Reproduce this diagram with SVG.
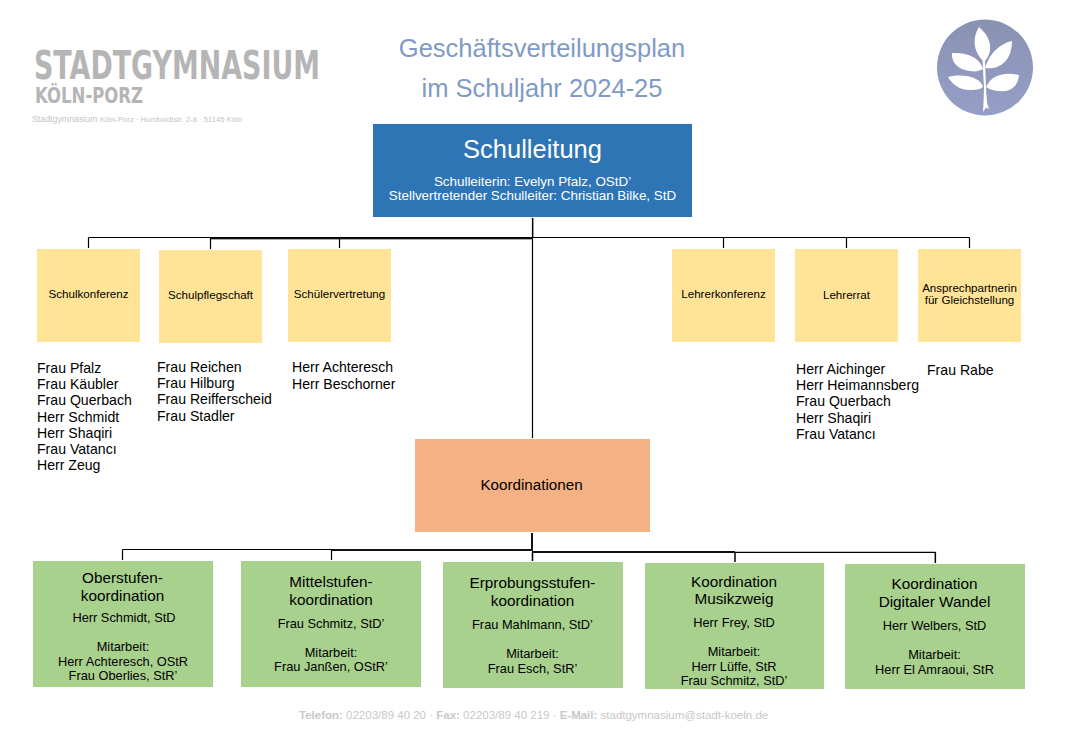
<svg xmlns="http://www.w3.org/2000/svg" width="1066" height="749" viewBox="0 0 1066 749">
<defs><linearGradient id="emb" x1="0" y1="0" x2="0" y2="1"><stop offset="0" stop-color="#8a92b3"/><stop offset="1" stop-color="#959ec6"/></linearGradient></defs>
<style>
text{font-family:"Liberation Sans",Arial,sans-serif;fill:#000}
.title{font-size:25.500px;fill:#7f9ac6;text-anchor:middle}
.y{fill:#ffe497}.g{fill:#a9d18e}
.c{text-anchor:middle}
.s11{font-size:11.600px}
.s12{font-size:12.800px}
.s15{font-size:15.300px}
.n{font-size:14.100px}
.w{fill:#fff;text-anchor:middle}
.ln{fill:none;stroke:#000;stroke-width:1.2}
.hv{fill:none;stroke:#111;stroke-width:2}
.sh{fill:none;stroke:#aaa;stroke-width:2}
.lg{font-family:"DejaVu Sans",sans-serif;font-weight:bold;fill:#b5b5b5}
</style>
<rect width="1066" height="749" fill="#fff"/>
<g id="logo">
<text class="lg" x="34" y="79" font-size="39" textLength="286" lengthAdjust="spacingAndGlyphs">STADTGYMNASIUM</text>
<text class="lg" x="35" y="103" font-size="21" textLength="108" lengthAdjust="spacingAndGlyphs">KÖLN-PORZ</text>
<text x="32" y="121.500" font-size="8.800" style="fill:#c4c4c4">Stadtgymnasium <tspan font-size="7.700">Köln-Porz · Humboldtstr. 2-8 · 51145 Köln</tspan></text>
</g>
<g id="emblem">
<circle cx="985" cy="67.500" r="48" fill="url(#emb)"/>
<g fill="#fff">
<path d="M979 27C972 38 973 52 984 62C992 54 994 40 979 27Z"/>
<path d="M1012 41C1000 44 990 52 985 68C998 70 1012 62 1012 41Z"/>
<path d="M952 53C951 62 958 70 970 71C975 72 980 71 983 69C981 60 970 52 952 53Z"/>
<path d="M948 77C952 84 960 91 972 90C977 90 981 89 983 87C981 78 965 73 948 77Z"/>
<path d="M1019 75C1006 72 992 74 986 87C992 91 1000 92 1006 91C1014 89 1018 84 1019 75Z"/>
<path d="M982.500 60L985 60L986 88L987 103L989 109L986 107.500L983 112L983.500 103L984 88Z"/>
</g>
</g>
<g id="heading">
<text class="title" x="542" y="57">Geschäftsverteilungsplan</text>
<text class="title" x="542" y="97">im Schuljahr 2024-25</text>
</g>
<g id="connectors">
<path class="sh" d="M210 239H533M533 218V238"/>
<path class="hv" d="M210 238H532"/>
<path class="ln" d="M532.500 218V438M88.500 237.500H969.500M88.500 237.500V248M210.500 237.500V249M339.500 237.500V248M723.500 237.500V248M846.500 237.500V248M969.500 237.500V248"/>
<path class="sh" d="M532.500 552V561M735 552V562M935 552V563"/>
<path class="hv" d="M532 533V551M332 550H532M532 552H735"/>
<path class="ln" d="M122.500 549.500H332M122.500 549.500V560M331.500 549.500V560M735 552.300H935.500M735 552V562M935.500 552V563M532.500 552V561"/>
</g>
<g id="schulleitung">
<rect x="373" y="124" width="319" height="93" fill="#2e75b6"/>
<text class="w" x="532.500" y="158" font-size="25.500">Schulleitung</text>
<text class="w" x="532.500" y="185.500" font-size="13.400">Schulleiterin: Evelyn Pfalz, OStD’</text>
<text class="w" x="532.500" y="200" font-size="13.400">Stellvertretender Schulleiter: Christian Bilke, StD</text>
</g>
<g id="schulkonferenz"><rect class="y" x="37" y="249" width="103" height="93"/><text class="c s11" x="88.500" y="298">Schulkonferenz</text></g>
<g id="schulpflegschaft"><rect class="y" x="159" y="250" width="103" height="93"/><text class="c s11" x="210.500" y="299">Schulpflegschaft</text></g>
<g id="schuelervertretung"><rect class="y" x="288" y="249" width="103" height="93"/><text class="c s11" x="339.500" y="298">Schülervertretung</text></g>
<g id="lehrerkonferenz"><rect class="y" x="672" y="249" width="103" height="93"/><text class="c s11" x="723.500" y="298">Lehrerkonferenz</text></g>
<g id="lehrerrat"><rect class="y" x="795" y="249" width="103" height="93"/><text class="c s11" x="846.500" y="299">Lehrerrat</text></g>
<g id="gleichstellung"><rect class="y" x="918" y="249" width="103" height="93"/><text class="c s11" x="969.500" y="292">Ansprechpartnerin</text><text class="c s11" x="969.500" y="304">für Gleichstellung</text></g>
<g id="liste-schulkonferenz">
<text class="n" x="37" y="373">Frau Pfalz</text><text class="n" x="37" y="389">Frau Käubler</text><text class="n" x="37" y="405">Frau Querbach</text><text class="n" x="37" y="422">Herr Schmidt</text><text class="n" x="37" y="438">Herr Shaqiri</text><text class="n" x="37" y="454">Frau Vatancı</text><text class="n" x="37" y="470">Herr Zeug</text>
</g>
<g id="liste-schulpflegschaft">
<text class="n" x="157" y="372">Frau Reichen</text><text class="n" x="157" y="388">Frau Hilburg</text><text class="n" x="157" y="404">Frau Reifferscheid</text><text class="n" x="157" y="421">Frau Stadler</text>
</g>
<g id="liste-schuelervertretung">
<text class="n" x="292" y="372">Herr Achteresch</text><text class="n" x="292" y="389">Herr Beschorner</text>
</g>
<g id="liste-lehrerrat">
<text class="n" x="796" y="374">Herr Aichinger</text><text class="n" x="796" y="390">Herr Heimannsberg</text><text class="n" x="796" y="406">Frau Querbach</text><text class="n" x="796" y="423">Herr Shaqiri</text><text class="n" x="796" y="439">Frau Vatancı</text>
</g>
<g id="liste-gleichstellung"><text class="n" x="927" y="375">Frau Rabe</text></g>
<g id="koordinationen"><rect x="415" y="439" width="235" height="93" fill="#f4b183"/><text class="c" x="531.500" y="490" font-size="15.200">Koordinationen</text></g>
<g id="oberstufe"><rect class="g" x="33" y="561" width="180" height="126"/>
<text class="c s15" x="122.500" y="583">Oberstufen-</text><text class="c s15" x="122.500" y="601">koordination</text>
<text class="c s12" x="124" y="622">Herr Schmidt, StD</text><text class="c s12" x="123" y="651">Mitarbeit:</text><text class="c s12" x="123" y="666">Herr Achteresch, OStR</text><text class="c s12" x="123" y="680">Frau Oberlies, StR’</text></g>
<g id="mittelstufe"><rect class="g" x="241" y="561" width="180" height="126"/>
<text class="c s15" x="331" y="587">Mittelstufen-</text><text class="c s15" x="331" y="605">koordination</text>
<text class="c s12" x="331" y="628">Frau Schmitz, StD’</text><text class="c s12" x="331" y="657">Mitarbeit:</text><text class="c s12" x="331" y="671">Frau Janßen, OStR’</text></g>
<g id="erprobungsstufe"><rect class="g" x="443" y="562" width="180" height="126"/>
<text class="c s15" x="532.500" y="588">Erprobungsstufen-</text><text class="c s15" x="532.500" y="606">koordination</text>
<text class="c s12" x="532.500" y="629">Frau Mahlmann, StD’</text><text class="c s12" x="532.500" y="658">Mitarbeit:</text><text class="c s12" x="532.500" y="673">Frau Esch, StR’</text></g>
<g id="musikzweig"><rect class="g" x="645" y="563" width="179" height="126"/>
<text class="c s15" x="734" y="587">Koordination</text><text class="c s15" x="734" y="604">Musikzweig</text>
<text class="c s12" x="734" y="627">Herr Frey, StD</text><text class="c s12" x="734" y="656">Mitarbeit:</text><text class="c s12" x="734" y="671">Herr Lüffe, StR</text><text class="c s12" x="734" y="685">Frau Schmitz, StD’</text></g>
<g id="digital"><rect class="g" x="845" y="564" width="180" height="125"/>
<text class="c s15" x="934.500" y="589">Koordination</text><text class="c s15" x="934.500" y="607">Digitaler Wandel</text>
<text class="c s12" x="934.500" y="630">Herr Welbers, StD</text><text class="c s12" x="934.500" y="659">Mitarbeit:</text><text class="c s12" x="934.500" y="674">Herr El Amraoui, StR</text></g>
<g id="footer"><text x="299" y="719" font-size="11.500" style="fill:#c8c8c8"><tspan font-weight="bold">Telefon:</tspan> 02203/89 40 20 · <tspan font-weight="bold">Fax:</tspan> 02203/89 40 219 · <tspan font-weight="bold">E-Mail:</tspan> stadtgymnasium@stadt-koeln.de</text></g>
</svg>
